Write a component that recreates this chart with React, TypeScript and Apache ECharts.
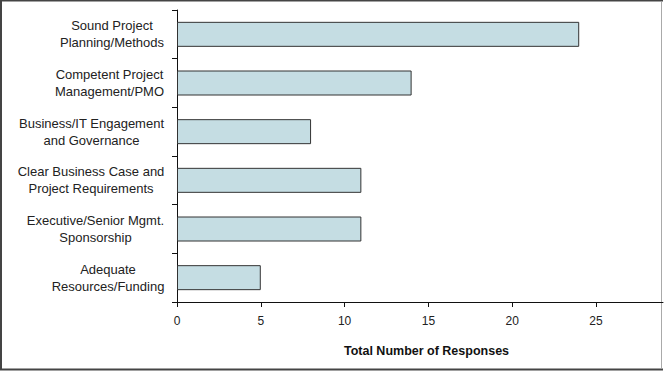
import React, { useEffect, useRef } from "react";
import * as echarts from "echarts";

const categories: string[] = [
  "Sound Project\nPlanning/Methods",
  "Competent Project\nManagement/PMO",
  "Business/IT Engagement\nand Governance",
  "Clear Business Case and\nProject Requirements",
  "Executive/Senior Mgmt.\nSponsorship",
  "Adequate\nResources/Funding",
];
const responses: number[] = [24, 14, 8, 11, 11, 5];
const xTicks: number[] = [0, 5, 10, 15, 20, 25];
const axisTitle = "Total Number of Responses";

const FAMILY = "'Liberation Sans', Arial, sans-serif";
const LABEL_FONT = "13px 'Liberation Sans', Arial, sans-serif";

function measure(text: string): number {
  const c = document.createElement("canvas");
  const ctx = c.getContext("2d");
  if (!ctx) return text.length * 6.5;
  ctx.font = LABEL_FONT;
  return ctx.measureText(text).width;
}

export default function App() {
  const ref = useRef<HTMLDivElement>(null);
  useEffect(() => {
    document.body.style.margin = "0";
    if (!ref.current) return;
    const chart = echarts.init(ref.current, undefined, { renderer: "svg" });

    const rich: Record<string, any> = {};
    categories.forEach((c, i) => {
      const w = Math.max(...c.split("\n").map(measure));
      rich["l" + i] = {
        width: Math.ceil(w) + 1,
        align: "center",
        fontFamily: FAMILY,
        fontSize: 13,
        lineHeight: 17,
        color: "#222",
      };
    });

    chart.setOption({
      animation: false,
      backgroundColor: "#fff",
      grid: { left: 177, right: 1, top: 10, bottom: 69, containLabel: false },
      xAxis: {
        type: "value",
        min: 0,
        max: 29,
        interval: 5,
        splitLine: { show: false },
        axisLine: { show: true, lineStyle: { color: "#111", width: 1 } },
        axisTick: { show: true, length: 5, lineStyle: { color: "#111" } },
        axisLabel: {
          margin: 13,
          color: "#222",
          fontSize: 12,
          fontFamily: FAMILY,
          showMaxLabel: false,
          formatter: (v: number) => (xTicks.includes(v) ? String(v) : ""),
        },
        name: axisTitle,
        nameLocation: "middle",
        nameGap: 42,
        nameTextStyle: {
          fontWeight: "bold",
          fontSize: 12.5,
          color: "#111",
          fontFamily: FAMILY,
          padding: [0, 0, 0, 13],
        },
      },
      yAxis: {
        type: "category",
        inverse: true,
        data: categories,
        axisLine: { show: true, lineStyle: { color: "#111", width: 1 } },
        axisTick: { show: true, length: 5, lineStyle: { color: "#111" } },
        axisLabel: {
          margin: 12,
          formatter: (v: string, i: number) =>
            v
              .split("\n")
              .map((line) => `{l${i}|${line}}`)
              .join("\n"),
          rich,
        },
      },
      series: [
        {
          type: "bar",
          data: responses,
          barWidth: 25,
          itemStyle: { color: "#c5dde3", borderColor: "#333", borderWidth: 1 },
        },
      ],
      graphic: [
        {
          type: "polyline",
          shape: { points: [[663, 0.5], [1, 0.5], [1, 369.5], [663, 369.5]] },
          style: { fill: "none", stroke: "#444", lineWidth: 2 },
          silent: true,
        },
        {
          type: "line",
          shape: { x1: 661.5, y1: 2, x2: 661.5, y2: 368 },
          style: { stroke: "#aaa", lineWidth: 1 },
          silent: true,
        },
      ],
    });
    return () => chart.dispose();
  }, []);
  return <div ref={ref} style={{ width: 664, height: 371 }} />;
}
